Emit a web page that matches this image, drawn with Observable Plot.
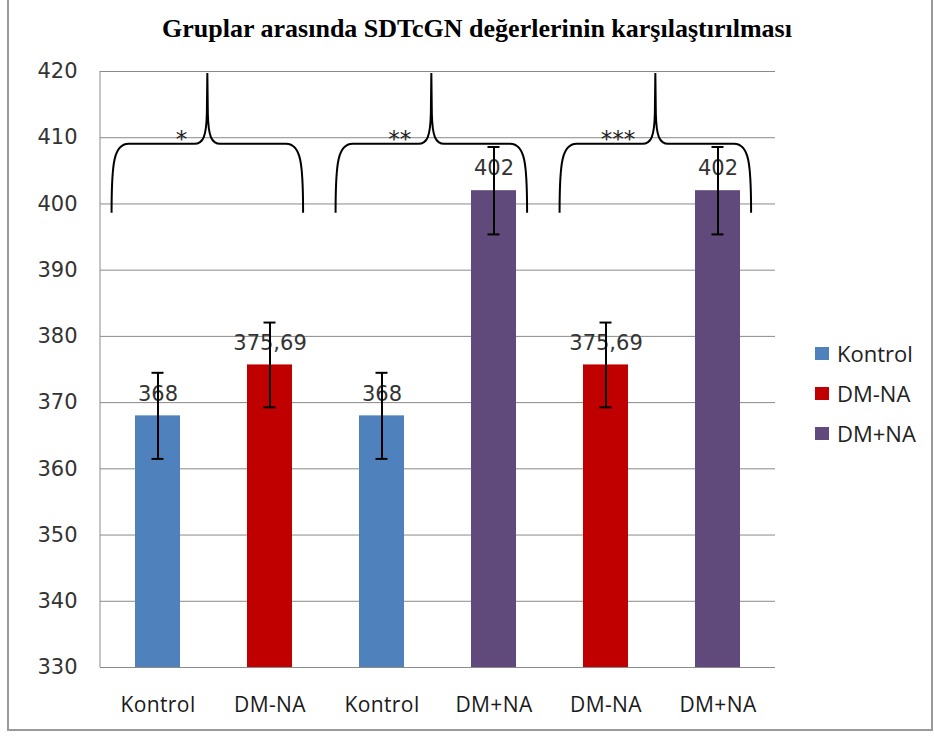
<!DOCTYPE html>
<html>
<head>
<meta charset="utf-8">
<script src="https://cdn.jsdelivr.net/npm/d3@7"></script>
<script src="https://cdn.jsdelivr.net/npm/@observablehq/plot@0.6"></script>
<style>
  html, body { margin: 0; padding: 0; background: #fff; }
  #wrap { position: relative; width: 934px; height: 742px; overflow: hidden; background: #fff; }
  #title { box-sizing: border-box; height: 55px; padding-top: 14px; padding-left: 20px; text-align: center;
           font-family: "Liberation Serif", "Times New Roman", serif; font-weight: bold; font-size: 26px;
           color: #000; white-space: nowrap; line-height: normal; }
  #legend { position: absolute; left: 815px; top: 333px; font-family: "Open Sans", sans-serif;
            font-size: 22px; color: #222; }
  #legend .item { display: flex; align-items: center; height: 40px; }
  #legend .sw { width: 14px; height: 13px; margin-right: 8px; }
  #border { position: absolute; left: 7px; top: -4px; width: 922px; height: 731px;
            border: 2px solid #9a9a9a; pointer-events: none; }
  svg [aria-label^="x-axis"] text { font-family: "Open Sans", sans-serif; font-size: 21px; letter-spacing: 0.4px; fill: #1a1a1a; }
  svg [aria-label^="y-axis"] text { font-family: "DejaVu Sans", Verdana, sans-serif; font-size: 21px; fill: #333; }
</style>
</head>
<body>
<div id="wrap">
  <div id="title"></div>
  <div id="chart"></div>
  <div id="legend"></div>
  <div id="border"></div>
</div>
<script>
// ---- data ----
const titleText = "Gruplar arasında SDTcGN değerlerinin karşılaştırılması";
const groupIds = ["g1", "g2", "g3", "g4", "g5", "g6"];
const groupLabels = ["Kontrol", "DM-NA", "Kontrol", "DM+NA", "DM-NA", "DM+NA"];
const meanValues = [368, 375.69, 368, 402, 375.69, 402];
const errorValues = [6.5, 6.4, 6.5, 6.6, 6.4, 6.6];
const valueLabels = ["368", "375,69", "368", "402", "375,69", "402"];
const seriesNames = ["Kontrol", "DM-NA", "DM+NA"];
const seriesColors = ["#4F81BD", "#C00000", "#604A7B"];
const yTicks = [330, 340, 350, 360, 370, 380, 390, 400, 410, 420];
const braceFrom = ["g1", "g3", "g5"];
const braceTo = ["g2", "g4", "g6"];
const braceLabels = ["*", "**", "***"];
const braceBottom = 398.6, braceLine = 409, braceTip = 419.7;

// ---- build ----
document.getElementById("title").textContent = titleText;

const yMin = yTicks[0], yMax = yTicks[yTicks.length - 1];
const data = groupIds.map((id, i) => ({
  id, group: groupLabels[i], value: meanValues[i], err: errorValues[i], label: valueLabels[i]
}));

const chart = Plot.plot({
  width: 934,
  height: 687,
  marginTop: 16,
  marginBottom: 75,
  marginLeft: 100,
  marginRight: 159,
  style: { fontFamily: "'DejaVu Sans', Verdana, sans-serif", fontSize: "20px", color: "#333", background: "transparent", overflow: "visible" },
  x: { domain: groupIds, paddingInner: 0.6, paddingOuter: 0.3, tickSize: 0, tickPadding: 30,
       tickFormat: id => groupLabels[groupIds.indexOf(id)], label: null },
  y: { domain: [yMin, yMax], ticks: yTicks, tickSize: 0, tickPadding: 23, tickFormat: d => String(d), label: null },
  color: { domain: seriesNames, range: seriesColors },
  marks: [
    Plot.ruleY(yTicks, { stroke: "#8a8a8a", strokeWidth: 1 }),
    Plot.barY(data, { x: "id", y1: yMin, y2: "value", fill: "group" }),
    Plot.text(data, { x: "id", y: "value", text: "label", dy: -22, fill: "#333", fontSize: 21 }),
    Plot.ruleX(data, { x: "id", y1: d => d.value - d.err, y2: d => d.value + d.err, stroke: "#000", strokeWidth: 2 }),
    Plot.tickY(data, { x: "id", y: d => d.value + d.err, stroke: "#000", strokeWidth: 2, insetLeft: 16.5, insetRight: 16.5 }),
    Plot.tickY(data, { x: "id", y: d => d.value - d.err, stroke: "#000", strokeWidth: 2, insetLeft: 16.5, insetRight: 16.5 })
  ]
});
document.getElementById("chart").appendChild(chart);

// ---- braces & left axis line, positioned through Plot's own scales ----
const xs = chart.scale("x"), ys = chart.scale("y");
const xBand = d3.scaleBand(xs.domain, xs.range)
  .paddingInner(xs.paddingInner ?? 0.6).paddingOuter(xs.paddingOuter ?? 0.3)
  .align(xs.align ?? 0.5).round(!!xs.round);
const bw = xs.bandwidth ?? xBand.bandwidth();
const step = xs.step ?? xBand.step();
const xStart = v => (typeof xs.apply === "function" ? xs.apply(v) : xBand(v));
const xCenter = v => xStart(v) + bw / 2;
const yLin = d3.scaleLinear(ys.domain, ys.range);
const yPos = v => (typeof ys.apply === "function" ? ys.apply(v) : yLin(v));

const svg = d3.select(chart);
const g = svg.append("g").attr("aria-label", "annotations");

// left axis line
g.append("line")
  .attr("x1", xs.range[0]).attr("x2", xs.range[0])
  .attr("y1", yPos(yMax)).attr("y2", yPos(yMin))
  .attr("stroke", "#8a8a8a").attr("stroke-width", 1);

braceFrom.forEach((from, i) => {
  const x0 = xCenter(from) - 0.41 * step;
  const x1 = xCenter(braceTo[i]) + 0.30 * step;
  const xm = (x0 + x1) / 2;
  const yb = yPos(braceBottom), yh = yPos(braceLine), yt = yPos(braceTip);
  const p = d3.path();
  p.moveTo(x0, yb);
  p.bezierCurveTo(x0, yh + 20, x0 + 2, yh, x0 + 17, yh);
  p.lineTo(xm - 13, yh);
  p.bezierCurveTo(xm - 4, yh, xm - 1, yh - 8, xm - 0.5, yh - 30);
  p.lineTo(xm, yt);
  p.lineTo(xm + 0.5, yh - 30);
  p.bezierCurveTo(xm + 1, yh - 8, xm + 4, yh, xm + 13, yh);
  p.lineTo(x1 - 17, yh);
  p.bezierCurveTo(x1 - 2, yh, x1, yh + 20, x1, yb);
  g.append("path").attr("d", p.toString())
    .attr("fill", "none").attr("stroke", "#000").attr("stroke-width", 2).attr("stroke-linejoin", "miter");
  g.append("text")
    .attr("x", xm - 20).attr("y", yh + 3)
    .attr("text-anchor", "end")
    .attr("font-size", 23).attr("fill", "#222")
    .text(braceLabels[i]);
});

// ---- legend ----
const legend = d3.select("#legend");
seriesNames.forEach((name, i) => {
  const item = legend.append("div").attr("class", "item");
  item.append("div").attr("class", "sw").style("background", seriesColors[i]);
  item.append("span").text(name);
});
</script>
</body>
</html>
